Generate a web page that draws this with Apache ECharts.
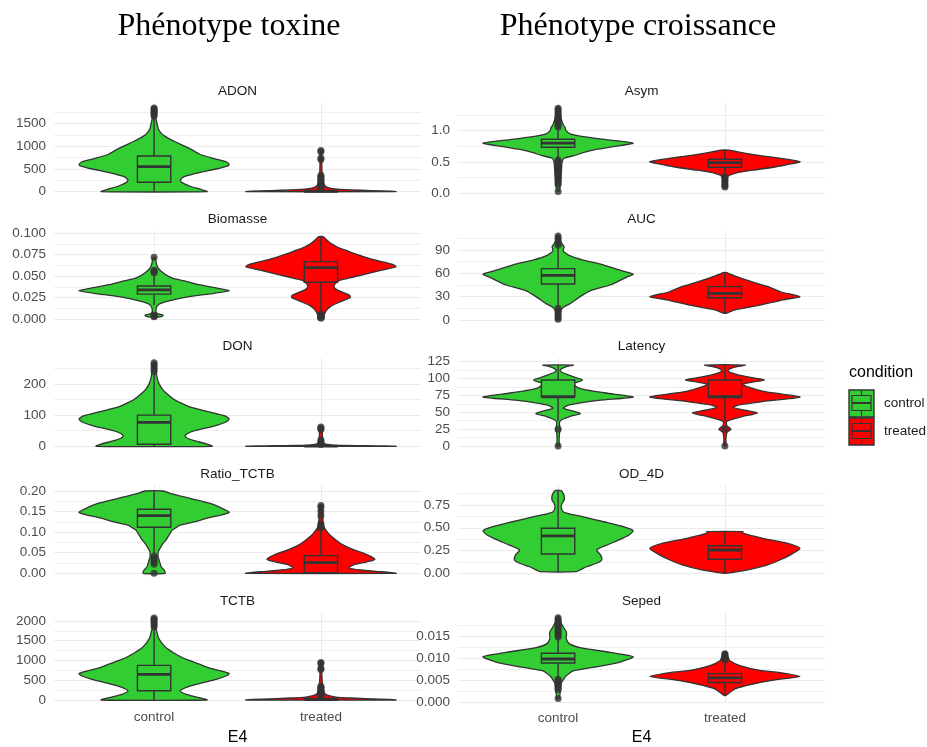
<!DOCTYPE html>
<html><head><meta charset="utf-8">
<script src="https://cdn.jsdelivr.net/npm/echarts@6/dist/echarts.min.js"></script>
<style>html,body{margin:0;padding:0;background:#fff}#c{width:927px;height:747px}</style>
</head><body><div id="c"></div><script>
// ---------------- DATA ----------------
const categories = ['control', 'treated'];
const panelNames = ['ADON', 'Biomasse', 'DON', 'Ratio_TCTB', 'TCTB', 'Asym', 'AUC', 'Latency', 'OD_4D', 'Seped'];
const columnTitles = ['Phénotype toxine', 'Phénotype croissance'];
const xAxisTitle = 'E4';
const legendTitle = 'condition';

// tick labels
const ticks_ADON = ['0', '500', '1000', '1500'];
const ticks_Biomasse = ['0.000', '0.025', '0.050', '0.075', '0.100'];
const ticks_DON = ['0', '100', '200'];
const ticks_Ratio_TCTB = ['0.00', '0.05', '0.10', '0.15', '0.20'];
const ticks_TCTB = ['0', '500', '1000', '1500', '2000'];
const ticks_Asym = ['0.0', '0.5', '1.0'];
const ticks_AUC = ['0', '30', '60', '90'];
const ticks_Latency = ['0', '25', '50', '75', '100', '125'];
const ticks_OD_4D = ['0.00', '0.25', '0.50', '0.75'];
const ticks_Seped = ['0.000', '0.005', '0.010', '0.015'];

// value at the top of each panel
const yLimits = [1943, 0.1029, 282.7, 0.2136, 2207, 1.434, 114.7, 130.3, 0.965, 0.02035];

// violin outlines: [value, relative density]
const ADON_control_violin = [[0,53],[50,47],[120,36],[200,28],[260,26],[330,30],[420,45],[500,62],[570,74],[600,75],[660,72],[740,58],[820,46],[920,38],[1000,31],[1100,21],[1180,14],[1250,9],[1320,6],[1400,4],[1500,3],[1600,2],[1700,1.5],[1850,1]];
const ADON_treated_violin = [[0,75],[10,70],[25,50],[40,30],[60,14],[90,7],[130,4],[200,2.5],[300,1.5],[500,1],[910,0.5]];
const Biomasse_control_violin = [[0.002,2],[0.003,8],[0.0045,9],[0.006,4],[0.008,2],[0.012,2],[0.015,3],[0.018,6],[0.022,18],[0.026,35],[0.03,60],[0.033,75],[0.036,63],[0.04,45],[0.044,32],[0.047,20],[0.05,14],[0.054,9],[0.058,5],[0.062,3],[0.066,2],[0.072,1]];
const Biomasse_treated_violin = [[0.0,3],[0.004,3],[0.007,4],[0.011,6],[0.015,10],[0.02,19],[0.025,29],[0.028,28],[0.031,22],[0.034,16],[0.037,13],[0.041,14],[0.045,18],[0.049,32],[0.053,46],[0.057,60],[0.061,74],[0.064,70],[0.068,56],[0.072,44],[0.076,34],[0.08,25],[0.084,16],[0.088,10],[0.092,6],[0.096,2]];
const DON_control_violin = [[0,58],[8,52],[18,40],[28,32],[35,31],[45,36],[55,47],[65,60],[78,72],[88,75],[98,70],[108,58],[118,45],[128,34],[140,26],[150,20],[165,14],[180,9],[200,5],[220,3],[240,2],[270,1]];
const DON_treated_violin = [[0,75],[1,65],[2,45],[3,25],[4,12],[6,6],[10,3],[20,2],[35,1.5],[62,1]];
const Ratio_TCTB_control_violin = [[0,11],[0.008,10],[0.016,7],[0.024,6],[0.032,5],[0.04,4],[0.05,4],[0.057,5],[0.065,7],[0.073,9],[0.081,12],[0.089,14],[0.097,16],[0.105,18],[0.111,22],[0.117,26],[0.125,40],[0.134,53],[0.148,75],[0.16,66],[0.17,56],[0.182,36],[0.194,16],[0.2,9.5]];
const Ratio_TCTB_treated_violin = [[0,75],[0.004,60],[0.008,40],[0.013,28],[0.02,32],[0.028,46],[0.034,54],[0.0445,47],[0.057,33],[0.069,22],[0.081,15],[0.093,9],[0.105,5],[0.113,3],[0.13,2],[0.15,1.5],[0.167,1]];
const TCTB_control_violin = [[0,53],[60,45],[140,32],[230,26],[320,32],[420,46],[520,62],[620,73],[670,75],[740,66],[820,54],[900,46],[1000,35],[1100,26],[1200,19],[1300,13],[1400,9],[1500,6],[1600,4],[1700,3],[1800,2],[2080,1]];
const TCTB_treated_violin = [[0,75],[15,68],[30,50],[50,30],[75,15],[110,8],[160,4],[250,2.5],[400,1.5],[600,1],[950,0.5]];
const Asym_control_violin = [[0.03,1],[0.1,2],[0.2,2.5],[0.3,3],[0.4,3.5],[0.5,4],[0.56,6],[0.6,16],[0.65,25],[0.7,38],[0.75,57],[0.8,75],[0.85,52],[0.9,27],[0.95,12],[1.0,8],[1.05,7],[1.1,5],[1.2,3],[1.3,2],[1.38,1]];
const Asym_treated_violin = [[0.1,1],[0.2,2],[0.27,3],[0.32,10],[0.37,28],[0.42,50],[0.47,66],[0.505,75],[0.56,55],[0.61,32],[0.66,13],[0.69,4]];
const AUC_control_violin = [[0,1],[5,2],[13,3],[17,6],[21,12],[30,22],[38,33],[45,52],[51,62],[56,70],[59,75],[64,62],[71,45],[77,25],[83,11],[89,5],[94,6],[98,4],[103,2],[109,1]];
const AUC_treated_violin = [[8.6,1],[13,10],[19,35],[26,58],[30,75],[36,56],[42,45],[47,32],[53,18],[59,5],[61,2]];
const Latency_control_violin = [[0,1],[10,1],[20,1.5],[25,2.5],[30,1.5],[36,1.5],[40,5],[44,12],[48,22],[52,14],[56,5],[60,9],[64,22],[68,42],[72.5,74],[77,55],[81,36],[85,22],[89,17],[93,16],[96,22],[98,24],[101,18],[105,11],[109,4],[112,2],[115,4],[118,9],[120,15]];
const Latency_treated_violin = [[0,1],[10,1],[20,2],[25,6],[30,2],[36,1.5],[40,8],[44,18],[49,32],[53,20],[57,8],[61,14],[66,38],[72.5,74],[77,56],[81,38],[85,28],[89,20],[92,18],[95,28],[98,39],[101,28],[105,14],[109,5],[112,3],[115,6],[118,13],[120,20]];
const OD_4D_control_violin = [[0.018,18],[0.04,22],[0.072,28],[0.11,38],[0.146,43],[0.2,42],[0.256,38],[0.31,48],[0.366,60],[0.42,70],[0.468,74],[0.51,65],[0.566,45],[0.62,25],[0.65,12],[0.676,5],[0.73,3],[0.77,4],[0.805,6],[0.85,6],[0.878,5],[0.907,3]];
const OD_4D_treated_violin = [[0,1],[0.036,22],[0.09,42],[0.146,55],[0.2,65],[0.274,75],[0.33,62],[0.384,38],[0.44,18],[0.457,18]];
const Seped_control_violin = [[0.0007,1],[0.002,2],[0.003,2.5],[0.0042,3],[0.005,5],[0.0057,7],[0.0065,11],[0.0071,15],[0.008,38],[0.0091,62],[0.0103,75],[0.0113,52],[0.0124,22],[0.0133,11],[0.0146,8],[0.0155,8.5],[0.0161,8],[0.0168,6],[0.0176,4],[0.0185,2],[0.0195,1]];
const Seped_treated_violin = [[0.0015,1],[0.003,10],[0.0041,28],[0.0052,55],[0.0058,75],[0.0067,55],[0.0072,35],[0.0083,15],[0.0094,5],[0.0103,3],[0.0113,1]];

// box stats: [lower whisker, Q1, median, Q3, upper whisker]
const ADON_control_box = [0, 207, 551, 786, 1650];
const ADON_treated_box = [0, 2, 8, 30, 70];
const Biomasse_control_box = [0.016, 0.029, 0.034, 0.0385, 0.052];
const Biomasse_treated_box = [0.007, 0.0428, 0.0599, 0.0669, 0.096];
const DON_control_box = [0, 6.4, 77, 100, 235];
const DON_treated_box = [0, 0, 0.5, 2, 5];
const Ratio_TCTB_control_box = [0.048, 0.112, 0.14, 0.1555, 0.2];
const Ratio_TCTB_treated_box = [0, 0.0015, 0.026, 0.043, 0.105];
const TCTB_control_box = [0, 233, 650, 875, 1820];
const TCTB_treated_box = [0, 3, 12, 40, 95];
const Asym_control_box = [0.545, 0.735, 0.80, 0.862, 1.05];
const Asym_treated_box = [0.30, 0.415, 0.489, 0.543, 0.69];
const AUC_control_box = [17, 46.3, 57.4, 66, 95];
const AUC_treated_box = [9, 28.7, 34.3, 42.9, 61];
const Latency_control_box = [37, 73, 73, 97.9, 120];
const Latency_treated_box = [37, 73, 73, 97.9, 120];
const OD_4D_control_box = [0.018, 0.212, 0.41, 0.494, 0.907];
const OD_4D_treated_box = [0, 0.154, 0.256, 0.303, 0.457];
const Seped_control_box = [0.0056, 0.0089, 0.0098, 0.0111, 0.0145];
const Seped_treated_box = [0.0017, 0.00446, 0.0055, 0.00646, 0.0094];

// outliers
const ADON_control_out = [1670, 1700, 1730, 1760, 1790, 1820, 1845];
const ADON_treated_out = [910, 880, 740, 710, 360, 330, 300, 270, 240, 210, 180, 150, 120, 100, 85];
const Biomasse_control_out = [0.072, 0.057, 0.0555, 0.054, 0.0045, 0.0035, 0.0025];
const Biomasse_treated_out = [0.0055, 0.004, 0.003, 0.002, 0.001];
const DON_control_out = [240, 247, 254, 261, 268];
const DON_treated_out = [62, 58, 54, 20, 15, 10, 6];
const Ratio_TCTB_control_out = [0.042, 0.037, 0.032, 0.027, 0.022, 0];
const Ratio_TCTB_treated_out = [0.11, 0.115, 0.12, 0.14, 0.15, 0.16, 0.165];
const TCTB_control_out = [1850, 1900, 1950, 2000, 2040, 2070];
const TCTB_treated_out = [950, 920, 800, 770, 350, 320, 290, 260, 230, 200, 170, 140, 110, 90];
const Asym_control_out = [1.06, 1.09, 1.12, 1.15, 1.18, 1.21, 1.24, 1.27, 1.3, 1.33, 1.36, 0.53, 0.5, 0.47, 0.44, 0.41, 0.38, 0.35, 0.32, 0.29, 0.26, 0.23, 0.2, 0.17, 0.14, 0.03];
const Asym_treated_out = [0.27, 0.24, 0.21, 0.18, 0.15, 0.12, 0.1];
const AUC_control_out = [96, 99, 102, 105, 108, 15, 12, 9, 6, 3, 1];
const AUC_treated_out = [];
const Latency_control_out = [25, 0];
const Latency_treated_out = [25, 0];
const OD_4D_control_out = [];
const OD_4D_treated_out = [];
const Seped_control_out = [0.0148, 0.0152, 0.0156, 0.016, 0.0164, 0.0168, 0.0172, 0.0176, 0.018, 0.0184, 0.0188, 0.0192, 0.0052, 0.0048, 0.0044, 0.004, 0.0036, 0.0032, 0.0028, 0.0008];
const Seped_treated_out = [0.0096, 0.0099, 0.0102, 0.0105, 0.0108, 0.011];

// ---------------- TABLES BUILT FROM DATA ----------------
const T = {
  ADON: [ticks_ADON, [ADON_control_violin, ADON_treated_violin], [ADON_control_box, ADON_treated_box], [ADON_control_out, ADON_treated_out]],
  Biomasse: [ticks_Biomasse, [Biomasse_control_violin, Biomasse_treated_violin], [Biomasse_control_box, Biomasse_treated_box], [Biomasse_control_out, Biomasse_treated_out]],
  DON: [ticks_DON, [DON_control_violin, DON_treated_violin], [DON_control_box, DON_treated_box], [DON_control_out, DON_treated_out]],
  Ratio_TCTB: [ticks_Ratio_TCTB, [Ratio_TCTB_control_violin, Ratio_TCTB_treated_violin], [Ratio_TCTB_control_box, Ratio_TCTB_treated_box], [Ratio_TCTB_control_out, Ratio_TCTB_treated_out]],
  TCTB: [ticks_TCTB, [TCTB_control_violin, TCTB_treated_violin], [TCTB_control_box, TCTB_treated_box], [TCTB_control_out, TCTB_treated_out]],
  Asym: [ticks_Asym, [Asym_control_violin, Asym_treated_violin], [Asym_control_box, Asym_treated_box], [Asym_control_out, Asym_treated_out]],
  AUC: [ticks_AUC, [AUC_control_violin, AUC_treated_violin], [AUC_control_box, AUC_treated_box], [AUC_control_out, AUC_treated_out]],
  Latency: [ticks_Latency, [Latency_control_violin, Latency_treated_violin], [Latency_control_box, Latency_treated_box], [Latency_control_out, Latency_treated_out]],
  OD_4D: [ticks_OD_4D, [OD_4D_control_violin, OD_4D_treated_violin], [OD_4D_control_box, OD_4D_treated_box], [OD_4D_control_out, OD_4D_treated_out]],
  Seped: [ticks_Seped, [Seped_control_violin, Seped_treated_violin], [Seped_control_box, Seped_treated_box], [Seped_control_out, Seped_treated_out]]
};

// ---------------- LAYOUT / STYLE ----------------
const FONT = '"Liberation Sans", Arial, sans-serif';
const fills = ['#32CD32', '#FF0000'];
const dark = '#333333';
const gridCol = '#EBEBEB';
const colLeft = [54, 458];
const panelW = 367;
const panelTop = [103.5, 230.8, 358.1, 485.4, 612.7];
const zeroY = [[191.7, 319, 446.3, 573.3, 701], [193.3, 320, 446, 573.3, 704]];
const stripY = [91.7, 219.5, 346.7, 474.3, 601];
const VIOLIN_HALF = 0.45, BOX_HALF = 0.1;

const grids = [], xAxes = [], yAxes = [], series = [], graphics = [];

panelNames.forEach((name, p) => {
  const col = p < 5 ? 0 : 1, row = p % 5;
  const [tickLabels, viol, boxes, outs] = T[name];
  const top = panelTop[row], bottom = zeroY[col][row];
  const isBottom = row === 4;
  grids.push({ left: colLeft[col], top: top, width: panelW, height: bottom - top });
  xAxes.push({
    gridIndex: p, type: 'value', min: 0.4, max: 2.6,
    axisLine: { show: false }, axisTick: { show: false, customValues: [1, 2] },
    axisLabel: { show: isBottom, customValues: [1, 2], formatter: v => categories[Math.round(v) - 1] || '',
      color: '#4D4D4D', fontSize: 13.5, fontFamily: FONT, margin: col === 0 ? 10 : 9 },
    splitLine: { show: true, lineStyle: { color: gridCol, width: 1 } },
    name: isBottom ? xAxisTitle : '', nameLocation: 'middle', nameGap: col === 0 ? 30 : 28,
    nameTextStyle: { color: '#000', fontSize: 16, fontFamily: FONT }
  });
  const tv = tickLabels.map(Number);
  const step = tv[1] - tv[0];
  const minors = tv.map(v => v + step / 2);
  const fmt = v => { const i = tv.findIndex(t => Math.abs(t - v) <= Math.abs(step) * 1e-6); return i >= 0 ? tickLabels[i] : ''; };
  yAxes.push({
    gridIndex: p, type: 'value', min: 0, max: yLimits[p],
    axisLine: { show: false }, axisTick: { show: false, customValues: tv },
    axisLabel: { customValues: tv, formatter: fmt, color: '#4D4D4D', fontSize: 13.5, fontFamily: FONT, margin: 8 },
    splitLine: { show: true, lineStyle: { color: gridCol, width: 1.1 } }
  });
  yAxes.push({
    gridIndex: p, type: 'value', min: 0, max: yLimits[p], position: 'left',
    axisLine: { show: false }, axisTick: { show: false, customValues: minors },
    axisLabel: { show: false },
    splitLine: { show: true, lineStyle: { color: gridCol, width: 0.8 } }
  });
  const yi = 2 * p;
  // violins
  series.push({
    type: 'custom', xAxisIndex: p, yAxisIndex: yi, clip: false, silent: true, z: 2,
    data: [[1, 0], [2, 0]],
    renderItem: (params, api) => {
      const i = params.dataIndex, prof = viol[i], c = api.value(0);
      const mx = Math.max(...prof.map(d => d[1]));
      const right = prof.map(d => api.coord([c + d[1] / mx * VIOLIN_HALF, d[0]]));
      const left = prof.slice().reverse().map(d => api.coord([c - d[1] / mx * VIOLIN_HALF, d[0]]));
      return { type: 'polygon', shape: { points: right.concat(left), smooth: 0.2 },
        style: { fill: fills[i], stroke: dark, lineWidth: 1.3 } };
    }
  });
  // boxes
  series.push({
    type: 'custom', xAxisIndex: p, yAxisIndex: yi, clip: false, silent: true, z: 3,
    data: [[1, 0], [2, 0]],
    renderItem: (params, api) => {
      const i = params.dataIndex, s = boxes[i], c = api.value(0);
      const xl = api.coord([c - BOX_HALF, s[2]])[0], xr = api.coord([c + BOX_HALF, s[2]])[0], xc = api.coord([c, s[2]])[0];
      const y = s.map(v => api.coord([c, v])[1]);
      const ls = { stroke: dark, lineWidth: 1.4 };
      return { type: 'group', children: [
        { type: 'line', shape: { x1: xc, y1: y[0], x2: xc, y2: y[1] }, style: ls },
        { type: 'line', shape: { x1: xc, y1: y[3], x2: xc, y2: y[4] }, style: ls },
        { type: 'rect', shape: { x: xl, y: y[3], width: xr - xl, height: Math.max(y[1] - y[3], 0.5) }, style: { fill: fills[i], stroke: dark, lineWidth: 1.4 } },
        { type: 'line', shape: { x1: xl, y1: y[2], x2: xr, y2: y[2] }, style: { stroke: dark, lineWidth: 2.8 } }
      ] };
    }
  });
  // outliers
  outs.forEach((arr, i) => {
    series.push({
      type: 'scatter', xAxisIndex: p, yAxisIndex: yi, clip: false, silent: true, z: 4,
      symbol: 'circle', symbolSize: 7, itemStyle: { color: dark },
      data: arr.map(v => [i + 1, v])
    });
  });
  // strip title
  graphics.push({ type: 'text', x: colLeft[col] + panelW / 2, y: stripY[row],
    style: { text: name, fill: '#1A1A1A', fontSize: 13.5, fontFamily: FONT, align: 'center', verticalAlign: 'middle', textAlign: 'center', textVerticalAlign: 'middle' } });
});

// column titles
[229, 638].forEach((x, k) => graphics.push({ type: 'text', x: x, y: 27,
  style: { text: columnTitles[k], fill: '#000', fontSize: 32, fontFamily: '"Liberation Serif", "Times New Roman", serif',
    align: 'center', verticalAlign: 'middle', textAlign: 'center', textVerticalAlign: 'middle' } }));

// legend
graphics.push({ type: 'text', x: 849, y: 373, style: { text: legendTitle, fill: '#000', fontSize: 16, fontFamily: FONT,
  align: 'left', verticalAlign: 'middle', textAlign: 'left', textVerticalAlign: 'middle' } });
categories.forEach((cat, i) => {
  const y0 = 390 + i * 28, x0 = 849, w = 25, h = 27, xc = x0 + w / 2;
  graphics.push({ type: 'rect', shape: { x: x0, y: y0, width: w, height: h }, style: { fill: fills[i], stroke: dark, lineWidth: 1.4 } });
  graphics.push({ type: 'line', shape: { x1: xc, y1: y0 + 1, x2: xc, y2: y0 + 5.5 }, style: { stroke: dark, lineWidth: 1.2 } });
  graphics.push({ type: 'line', shape: { x1: xc, y1: y0 + 20.5, x2: xc, y2: y0 + h - 1 }, style: { stroke: dark, lineWidth: 1.2 } });
  graphics.push({ type: 'rect', shape: { x: x0 + 3, y: y0 + 5.5, width: w - 6, height: 15 }, style: { fill: fills[i], stroke: dark, lineWidth: 1.2 } });
  graphics.push({ type: 'line', shape: { x1: x0 + 3, y1: y0 + 13, x2: x0 + w - 3, y2: y0 + 13 }, style: { stroke: dark, lineWidth: 2 } });
  graphics.push({ type: 'text', x: 884, y: y0 + 13.5, style: { text: cat, fill: '#1A1A1A', fontSize: 13.5, fontFamily: FONT,
    align: 'left', verticalAlign: 'middle', textAlign: 'left', textVerticalAlign: 'middle' } });
});

const chart = echarts.init(document.getElementById('c'), null, { renderer: 'canvas' });
chart.setOption({
  animation: false,
  backgroundColor: '#fff',
  grid: grids, xAxis: xAxes, yAxis: yAxes, series: series,
  graphic: { elements: graphics }
});
</script></body></html>
